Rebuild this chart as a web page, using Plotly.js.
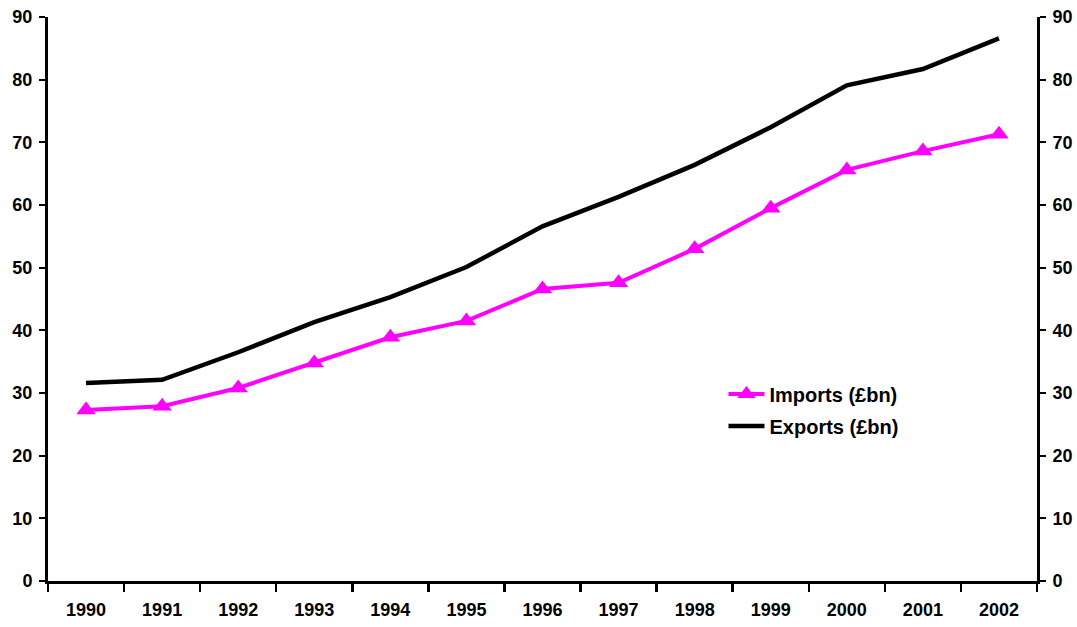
<!DOCTYPE html>
<html>
<head>
<meta charset="utf-8">
<script src="https://cdn.plot.ly/plotly-3.0.1.min.js"></script>
<style>html,body{margin:0;padding:0;background:#fff;}#chart{width:1077px;height:627px;}</style>
</head>
<body>
<div id="chart"></div>
<script>
const years = ["1990","1991","1992","1993","1994","1995","1996","1997","1998","1999","2000","2001","2002"];
const imports = [27.3, 27.9, 30.8, 34.8, 38.9, 41.5, 46.6, 47.6, 53.0, 59.5, 65.6, 68.6, 71.3];
const exports = [31.6, 32.1, 36.5, 41.3, 45.3, 50.1, 56.6, 61.3, 66.4, 72.4, 79.1, 81.7, 86.6];
const yTicks = [0,10,20,30,40,50,60,70,80,90];

const tickFont = {family: "Liberation Sans, Arial, sans-serif", size: 18, color: "#000", weight: "bold"};

const data = [
  {x: years, y: imports, name: "Imports (£bn)", type: "scatter", mode: "lines+markers", yaxis: "y",
   legendgroup: "a",
   line: {color: "#ff00ff", width: 4}, marker: {symbol: "triangle-up", size: 17, color: "#ff00ff"}},
  {x: years, y: exports, name: "Exports (£bn)", type: "scatter", mode: "lines", yaxis: "y2",
   legendgroup: "b",
   line: {color: "#000000", width: 4.5}}
];

const yBase = {
  range: [0, 90], tickvals: yTicks, ticktext: yTicks.map(String),
  showgrid: false, zeroline: false, showline: true, linecolor: "#000", linewidth: 3,
  ticks: "outside", ticklen: 6, tickwidth: 2, tickcolor: "#000", tickfont: tickFont, fixedrange: true,
  ticklabelstandoff: 3
};

const layout = {
  width: 1077, height: 627,
  margin: {l: 48, r: 40, t: 17, b: 46},
  paper_bgcolor: "#fff", plot_bgcolor: "#fff",
  showlegend: true,
  legend: {x: 0.683, y: 0.366, xanchor: "left", yanchor: "top", bgcolor: "rgba(0,0,0,0)",
    traceorder: "grouped", tracegroupgap: 3,
    font: {family: "Liberation Sans, Arial, sans-serif", size: 20, color: "#000", weight: "bold"}, itemwidth: 36},
  xaxis: {type: "category", tickson: "boundaries", showgrid: false, zeroline: false,
    showline: true, linecolor: "#000", linewidth: 3, ticks: "outside", ticklen: 8, tickwidth: 2.5,
    tickcolor: "#000", tickfont: tickFont, range: [-0.5, 12.5], ticklabelstandoff: 10},
  yaxis: Object.assign({}, yBase, {side: "left"}),
  yaxis2: Object.assign({}, yBase, {side: "right", overlaying: "y", anchor: "x"})
};

Plotly.newPlot("chart", data, layout, {staticPlot: true});
</script>
</body>
</html>
